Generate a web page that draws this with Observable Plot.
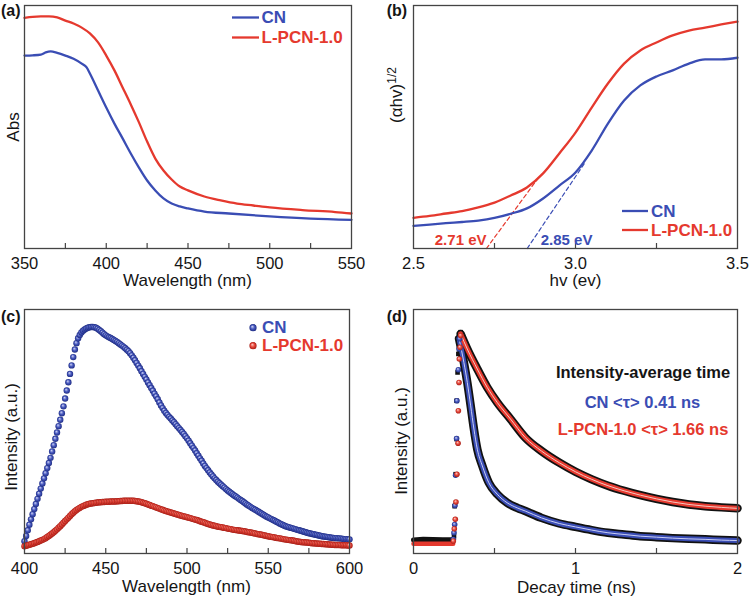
<!DOCTYPE html>
<html><head><meta charset="utf-8">
<script src="https://cdn.jsdelivr.net/npm/d3@7"></script>
<script src="https://cdn.jsdelivr.net/npm/@observablehq/plot@0.6"></script>
<style>
html,body{margin:0;padding:0;background:#fff;}
#fig{position:relative;width:751px;height:600px;overflow:hidden;}
</style></head><body><div id="fig"></div>
<script>
// ---------- (a) UV-vis absorbance ----------
const absWlCN = [350,355,360,363,366,370,375,380,385,388,390,395,400,405,410,415,420,425,430,435,440,445,450,460,475,500,525,550];
const absCN   = [0.794,0.795,0.798,0.807,0.811,0.805,0.794,0.781,0.761,0.745,0.720,0.650,0.580,0.514,0.453,0.391,0.333,0.280,0.239,0.206,0.185,0.173,0.165,0.152,0.144,0.132,0.123,0.118];
const absWlL  = [350,355,360,365,370,375,380,385,390,395,400,405,410,415,420,425,430,435,440,445,450,460,470,480,490,500,520,540,550];
const absL    = [0.949,0.953,0.955,0.955,0.951,0.938,0.926,0.909,0.885,0.848,0.794,0.733,0.663,0.593,0.519,0.440,0.370,0.321,0.284,0.255,0.239,0.214,0.198,0.185,0.177,0.169,0.158,0.150,0.144];
const absTickLabels = [350,400,450,500,550];
const absTickMarks  = [375,400,425,450,475,500,525];

// ---------- (b) Tauc plot ----------
const taucEv = [2.50,2.55,2.60,2.65,2.70,2.75,2.80,2.85,2.90,2.95,3.00,3.05,3.10,3.15,3.20,3.25,3.30,3.35,3.40,3.45,3.50];
const taucCN = [0.093,0.098,0.104,0.109,0.115,0.126,0.143,0.165,0.206,0.259,0.313,0.403,0.514,0.609,0.671,0.708,0.733,0.761,0.778,0.778,0.785];
const taucL  = [0.126,0.134,0.144,0.154,0.169,0.189,0.218,0.251,0.309,0.391,0.477,0.580,0.679,0.761,0.815,0.848,0.877,0.897,0.909,0.922,0.934];
const tangentLX = [2.725, 2.885], tangentLY = [0, 0.29];
const tangentCNX = [2.851, 3.03], tangentCNY = [0, 0.355];
const bandGapLabels = ["2.71 eV", "2.85 eV"];
const taucTickLabels = [2.5, 3.0, 3.5];
const taucTickMarks = [2.75, 3.0, 3.25];

// ---------- (c) PL spectra (1 nm steps) ----------
const plWl = [400,401,402,403,404,405,406,407,408,409,410,411,412,413,414,415,416,417,418,419,
  420,421,422,423,424,425,426,427,428,429,430,431,432,433,434,435,436,437,438,439,
  440,441,442,443,444,445,446,447,448,449,450,451,452,453,454,455,456,457,458,459,
  460,461,462,463,464,465,466,467,468,469,470,471,472,473,474,475,476,477,478,479,
  480,481,482,483,484,485,486,487,488,489,490,491,492,493,494,495,496,497,498,499,
  500,501,502,503,504,505,506,507,508,509,510,511,512,513,514,515,516,517,518,519,
  520,521,522,523,524,525,526,527,528,529,530,531,532,533,534,535,536,537,538,539,
  540,541,542,543,544,545,546,547,548,549,550,551,552,553,554,555,556,557,558,559,
  560,561,562,563,564,565,566,567,568,569,570,571,572,573,574,575,576,577,578,579,
  580,581,582,583,584,585,586,587,588,589,590,591,592,593,594,595,596,597,598,599,600];
const plCN = [0.050,0.072,0.095,0.118,0.140,0.161,0.182,0.203,0.224,0.245,
  0.266,0.287,0.308,0.329,0.350,0.371,0.392,0.418,0.444,0.470,
  0.496,0.522,0.548,0.575,0.603,0.635,0.668,0.702,0.736,0.771,
  0.805,0.836,0.862,0.882,0.896,0.906,0.913,0.918,0.922,0.925,
  0.927,0.928,0.928,0.927,0.925,0.921,0.916,0.911,0.905,0.899,
  0.894,0.890,0.886,0.883,0.879,0.875,0.871,0.867,0.862,0.857,
  0.852,0.847,0.841,0.835,0.829,0.821,0.812,0.802,0.792,0.781,
  0.770,0.759,0.747,0.736,0.724,0.713,0.701,0.690,0.678,0.667,
  0.655,0.644,0.632,0.619,0.607,0.596,0.585,0.576,0.568,0.560,
  0.553,0.545,0.538,0.530,0.522,0.514,0.506,0.498,0.490,0.481,
  0.472,0.462,0.452,0.442,0.432,0.422,0.411,0.401,0.390,0.380,
  0.369,0.359,0.350,0.341,0.332,0.324,0.316,0.308,0.301,0.294,
  0.288,0.282,0.276,0.270,0.264,0.258,0.253,0.248,0.243,0.238,
  0.234,0.229,0.224,0.219,0.215,0.210,0.205,0.200,0.196,0.191,
  0.187,0.183,0.179,0.175,0.171,0.167,0.163,0.159,0.155,0.151,
  0.148,0.144,0.141,0.137,0.134,0.130,0.127,0.123,0.120,0.117,
  0.114,0.111,0.109,0.107,0.105,0.103,0.101,0.099,0.097,0.095,
  0.093,0.091,0.089,0.087,0.085,0.083,0.082,0.080,0.079,0.077,
  0.076,0.074,0.073,0.071,0.070,0.069,0.068,0.067,0.066,0.065,
  0.064,0.063,0.063,0.062,0.062,0.061,0.060,0.059,0.059,0.058,
  0.058];
const plL = [0.030,0.032,0.034,0.036,0.038,0.040,0.042,0.045,0.047,0.050,
  0.053,0.056,0.059,0.063,0.068,0.072,0.077,0.082,0.087,0.093,
  0.099,0.106,0.112,0.119,0.126,0.133,0.140,0.147,0.154,0.161,
  0.167,0.173,0.178,0.183,0.187,0.191,0.194,0.197,0.200,0.202,
  0.204,0.205,0.206,0.207,0.208,0.209,0.210,0.210,0.211,0.211,
  0.212,0.212,0.212,0.213,0.213,0.213,0.213,0.214,0.214,0.215,
  0.215,0.216,0.216,0.216,0.216,0.216,0.216,0.216,0.215,0.214,
  0.213,0.212,0.210,0.208,0.206,0.204,0.201,0.199,0.196,0.194,
  0.191,0.189,0.186,0.184,0.181,0.179,0.176,0.174,0.172,0.170,
  0.168,0.166,0.164,0.162,0.160,0.158,0.156,0.154,0.152,0.151,
  0.149,0.147,0.145,0.143,0.141,0.139,0.137,0.135,0.132,0.130,
  0.128,0.126,0.123,0.121,0.119,0.117,0.115,0.114,0.112,0.110,
  0.109,0.108,0.107,0.105,0.104,0.102,0.101,0.100,0.098,0.097,
  0.096,0.095,0.094,0.093,0.092,0.091,0.090,0.088,0.087,0.086,
  0.085,0.083,0.082,0.080,0.079,0.078,0.077,0.075,0.074,0.072,
  0.071,0.069,0.068,0.067,0.066,0.064,0.063,0.062,0.061,0.059,
  0.058,0.057,0.056,0.055,0.054,0.053,0.052,0.050,0.049,0.048,
  0.047,0.046,0.046,0.045,0.045,0.044,0.043,0.042,0.042,0.041,
  0.041,0.040,0.040,0.039,0.039,0.038,0.038,0.037,0.037,0.036,
  0.036,0.035,0.035,0.035,0.035,0.034,0.034,0.034,0.034,0.033,
  0.033];
const plTickLabels = [400,450,500,550,600];
const plTickMarks = [425,450,475,500,525,550,575];

// ---------- (d) TRPL decay ----------
const baseT    = [0, 0.06, 0.12, 0.18, 0.245];
const baseRaw  = [0.055, 0.058, 0.057, 0.056, 0.056];
const baseFit  = [0.040, 0.040, 0.040, 0.040, 0.040];
const cnRiseT  = [0.246,0.250,0.254,0.256,0.260,0.266,0.268,0.277,0.281,0.285];
const cnRise   = [0.058,0.085,0.119,0.197,0.321,0.471,0.626,0.753,0.838,0.880];
const lRiseT   = [0.246,0.252,0.258,0.262,0.268,0.275,0.277,0.281,0.283,0.287,0.291];
const lRise    = [0.051,0.101,0.140,0.211,0.325,0.452,0.585,0.701,0.797,0.845,0.893];
const rawRiseT = [0.250,0.254,0.260,0.266,0.266,0.272,0.277,0.291];
const rawRise  = [0.071,0.194,0.325,0.469,0.626,0.742,0.818,0.907];
const cnDecayT = [0.281,0.311,0.332,0.353,0.373,0.394,0.425,0.465,0.517,0.578,0.640,0.690,0.790,0.900,1.000,1.100,1.200,1.300,1.400,1.500,1.600,1.700,1.800,1.900,2.000];
const cnDecay  = [0.881,0.783,0.701,0.605,0.510,0.427,0.359,0.290,0.243,0.208,0.187,0.174,0.146,0.123,0.109,0.096,0.085,0.078,0.071,0.067,0.063,0.060,0.058,0.055,0.053];
const lDecayT  = [0.291,0.332,0.394,0.455,0.517,0.599,0.690,0.790,0.900,1.000,1.100,1.200,1.300,1.400,1.500,1.600,1.700,1.800,1.900,2.000];
const lDecay   = [0.900,0.838,0.756,0.681,0.619,0.551,0.475,0.420,0.372,0.335,0.304,0.278,0.257,0.239,0.224,0.211,0.201,0.194,0.189,0.185];
const decayTickLabels = [0, 1, 2];
const decayTickMarks = [0.5, 1, 1.5];

// ---------- styling ----------
const FONT = '"Liberation Sans", Arial, Helvetica, sans-serif';
const BLUE = "#3a4db4", RED = "#e5392e", FRAME = "#444", INK = "#151515";
const BALL_B = "#3447b1", BALL_R = "#e1362b";
const fig = document.getElementById("fig");

function addAt(svg, left, top) {
  svg.style.position = "absolute";
  svg.style.left = left + "px";
  svg.style.top = top + "px";
  fig.appendChild(svg);
}
function grad(defs, id, c) {
  const r = defs.append("radialGradient").attr("id", id)
    .attr("cx", "0.5").attr("cy", "0.5").attr("r", "0.5").attr("fx", "0.38").attr("fy", "0.32");
  r.append("stop").attr("offset", "0%").attr("stop-color", c[0]);
  r.append("stop").attr("offset", "55%").attr("stop-color", c[1]);
  r.append("stop").attr("offset", "100%").attr("stop-color", c[2]);
}
function ballDefs(id) {
  return () => {
    const g = d3.create("svg:g");
    const d = g.append("defs");
    grad(d, id + "B", ["#d3d8f6", "#4657bd", "#1f2d84"]);
    grad(d, id + "R", ["#fcd0c8", "#e6463a", "#a91e16"]);
    return g.node();
  };
}
function useBalls(svg, id) {
  svg.querySelectorAll(`[fill="${BALL_B}"]`).forEach(n => n.setAttribute("fill", `url(#${id}B)`));
  svg.querySelectorAll(`[fill="${BALL_R}"]`).forEach(n => n.setAttribute("fill", `url(#${id}R)`));
}
// text annotations (labels, legends) drawn inside the plot's SVG
function texts(items) {
  return () => {
    const g = d3.create("svg:g").attr("font-family", FONT);
    for (const it of items) {
      if (it.line) {
        g.append("line").attr("x1", it.x1).attr("x2", it.x2).attr("y1", it.y).attr("y2", it.y)
          .attr("stroke", it.color).attr("stroke-width", 2.3);
        continue;
      }
      if (it.ball) {
        g.append("circle").attr("cx", it.x).attr("cy", it.y).attr("r", it.r).attr("fill", it.fill);
        continue;
      }
      const t = g.append("text")
        .attr("transform", `translate(${it.x},${it.y})${it.rotate ? ` rotate(${it.rotate})` : ""}`)
        .attr("text-anchor", it.anchor || "start")
        .attr("font-size", it.size || 17)
        .attr("font-weight", it.bold ? "bold" : "normal")
        .attr("fill", it.fill || INK);
      t.append("tspan").text(it.text);
      if (it.sup) t.append("tspan").attr("dy", "-0.45em").attr("font-size", 12).text(it.sup);
    }
    return g.node();
  };
}
const baseStyle = {fontFamily: FONT, fontSize: "16px", color: INK, background: "transparent", overflow: "visible"};
function axisBits(tickLabels, tickMarks, frameH, fmt) {
  return [
    Plot.tickX(tickMarks, {x: d => d, insetTop: frameH - 5, stroke: FRAME, strokeWidth: 1.2}),
    Plot.axisX(tickLabels, {tickSize: 0, tickPadding: 8.5, fontSize: 16.5, label: null, tickFormat: fmt}),
    Plot.frame({stroke: FRAME, strokeWidth: 1.3})
  ];
}

// ---------- panel (a) ----------
const pa = Plot.plot({
  width: 375, height: 300, marginTop: 5, marginBottom: 52, marginLeft: 24, marginRight: 24,
  x: {domain: [350, 550]}, y: {domain: [0, 1], axis: null},
  style: baseStyle,
  marks: [
    Plot.line(absCN, {x: absWlCN, y: absCN, stroke: BLUE, strokeWidth: 2.3, curve: "monotone-x"}),
    Plot.line(absL, {x: absWlL, y: absL, stroke: RED, strokeWidth: 2.3, curve: "monotone-x"}),
    ...axisBits(absTickLabels, absTickMarks, 243, d => String(d)),
    texts([
      {text: "(a)", x: 1, y: 16, bold: true, size: 16},
      {text: "Abs", x: 18.5, y: 127, rotate: -90, anchor: "middle"},
      {text: "Wavelength (nm)", x: 187.5, y: 285.5, anchor: "middle"},
      {line: true, x1: 232, x2: 259, y: 17.5, color: BLUE},
      {text: "CN", x: 261.5, y: 23.2, bold: true, fill: BLUE},
      {line: true, x1: 232, x2: 259, y: 37.5, color: RED},
      {text: "L-PCN-1.0", x: 261.5, y: 43.2, bold: true, fill: RED}
    ])
  ]
});
addAt(pa, 0, 0);

// ---------- panel (b) ----------
const pb = Plot.plot({
  width: 376, height: 300, marginTop: 5, marginBottom: 52, marginLeft: 38, marginRight: 14,
  x: {domain: [2.5, 3.5]}, y: {domain: [0, 1], axis: null},
  style: baseStyle,
  marks: [
    Plot.line(tangentLY, {x: tangentLX, y: tangentLY, stroke: RED, strokeWidth: 1.2, strokeDasharray: "4,3"}),
    Plot.line(tangentCNY, {x: tangentCNX, y: tangentCNY, stroke: BLUE, strokeWidth: 1.2, strokeDasharray: "4,3"}),
    Plot.line(taucCN, {x: taucEv, y: taucCN, stroke: BLUE, strokeWidth: 2.3, curve: "monotone-x"}),
    Plot.line(taucL, {x: taucEv, y: taucL, stroke: RED, strokeWidth: 2.3, curve: "monotone-x"}),
    ...axisBits(taucTickLabels, taucTickMarks, 243, d3.format(".1f")),
    texts([
      {text: "(b)", x: 11.7, y: 16, bold: true, size: 16},
      {text: "(αhv)", sup: "1/2", x: 26.5, y: 95, rotate: -90, anchor: "middle"},
      {text: "hv (ev)", x: 200.5, y: 285.5, anchor: "middle"},
      {text: bandGapLabels[0], x: 111.5, y: 245, anchor: "end", bold: true, size: 15, fill: RED},
      {text: bandGapLabels[1], x: 165.7, y: 245, bold: true, size: 15, fill: BLUE},
      {line: true, x1: 247, x2: 273, y: 211, color: BLUE},
      {text: "CN", x: 276, y: 216.7, bold: true, fill: BLUE},
      {line: true, x1: 247, x2: 273, y: 230, color: RED},
      {text: "L-PCN-1.0", x: 276, y: 235.7, bold: true, fill: RED}
    ])
  ]
});
addAt(pb, 375, 0);

// ---------- panel (c) ----------
const pc = Plot.plot({
  width: 375, height: 300, marginTop: 9, marginBottom: 47, marginLeft: 24, marginRight: 26,
  x: {domain: [400, 600]}, y: {domain: [0, 1], axis: null},
  style: baseStyle,
  marks: [
    ballDefs("pc"),
    Plot.dot(plCN, {x: plWl, y: plCN, r: 3.2, fill: BALL_B}),
    Plot.dot(plL, {x: plWl, y: plL, r: 3.2, fill: BALL_R}),
    ...axisBits(plTickLabels, plTickMarks, 244, d => String(d)),
    texts([
      {text: "(c)", x: 1, y: 21.5, bold: true, size: 16},
      {text: "Intensity (a.u.)", x: 16.5, y: 137, rotate: -90, anchor: "middle"},
      {text: "Wavelength (nm)", x: 186.5, y: 291.5, anchor: "middle"},
      {ball: true, x: 253, y: 27.7, r: 3.6, fill: "url(#pcB)"},
      {text: "CN", x: 262, y: 33.2, bold: true, fill: BLUE},
      {ball: true, x: 253, y: 45.7, r: 3.6, fill: "url(#pcR)"},
      {text: "L-PCN-1.0", x: 262, y: 51.2, bold: true, fill: RED}
    ])
  ]
});
useBalls(pc, "pc");
addAt(pc, 0, 300);

// ---------- panel (d) ----------
const hiB = "#c9cef4", hiR = "#f6c6bf";
const pd = Plot.plot({
  width: 376, height: 300, marginTop: 9, marginBottom: 47, marginLeft: 38, marginRight: 14,
  x: {domain: [0, 2]}, y: {domain: [0, 1], axis: null},
  style: baseStyle,
  marks: [
    ballDefs("pd"),
    Plot.line(baseRaw, {x: baseT, y: baseRaw, stroke: "#111", strokeWidth: 5}),
    Plot.line(lDecay, {x: lDecayT, y: lDecay, stroke: "#111", strokeWidth: 8.5, curve: "monotone-x"}),
    Plot.line(cnDecay, {x: cnDecayT, y: cnDecay, stroke: "#111", strokeWidth: 8.5, curve: "monotone-x"}),
    Plot.dot(rawRise, {x: rawRiseT, y: rawRise, symbol: "square", r: 2.6, fill: "#111"}),
    Plot.line(baseFit, {x: baseT, y: baseFit, stroke: RED, strokeWidth: 4.5}),
    Plot.line(cnDecay, {x: cnDecayT, y: cnDecay, stroke: BLUE, strokeWidth: 5, curve: "monotone-x"}),
    Plot.line(cnDecay, {x: cnDecayT, y: cnDecay, stroke: hiB, strokeWidth: 1, curve: "monotone-x"}),
    Plot.line(lDecay, {x: lDecayT, y: lDecay, stroke: RED, strokeWidth: 5, curve: "monotone-x"}),
    Plot.line(lDecay, {x: lDecayT, y: lDecay, stroke: hiR, strokeWidth: 1, curve: "monotone-x"}),
    Plot.dot(cnRise, {x: cnRiseT, y: cnRise, r: 2.8, fill: BALL_B}),
    Plot.dot(lRise, {x: lRiseT, y: lRise, r: 2.8, fill: BALL_R}),
    ...axisBits(decayTickLabels, decayTickMarks, 244, d => String(d)),
    texts([
      {text: "(d)", x: 11.7, y: 21.5, bold: true, size: 16},
      {text: "Intensity (a.u.)", x: 31.5, y: 141, rotate: -90, anchor: "middle"},
      {text: "Decay time (ns)", x: 201.5, y: 292.5, anchor: "middle"},
      {text: "Intensity-average time", x: 268, y: 77.5, anchor: "middle", bold: true, size: 16.5},
      {text: "CN <τ> 0.41 ns", x: 267.5, y: 107.7, anchor: "middle", bold: true, size: 16.5, fill: BLUE},
      {text: "L-PCN-1.0 <τ> 1.66 ns", x: 268, y: 135, anchor: "middle", bold: true, size: 16.5, fill: RED}
    ])
  ]
});
useBalls(pd, "pd");
addAt(pd, 375, 300);
</script>
</body></html>
